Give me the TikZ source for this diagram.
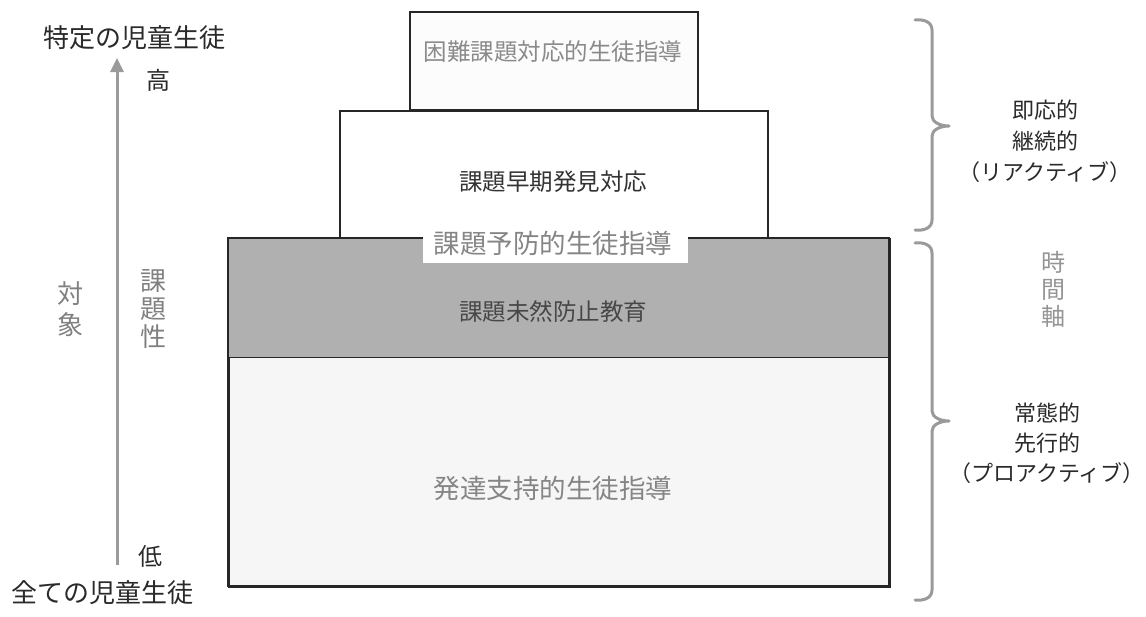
\documentclass[tikz,border=0pt]{standalone}
\usepackage{fontspec}
\setmainfont{Noto Sans CJK JP}
\usetikzlibrary{arrows.meta}
\definecolor{txtdark}{HTML}{2A2A2A}
\definecolor{txtgray}{HTML}{8A8A8A}
\definecolor{darkfill}{HTML}{B0B0B0}
\definecolor{lightfill}{HTML}{F6F6F6}
\definecolor{topfill}{HTML}{FCFCFC}
\definecolor{linegray}{HTML}{9A9A9A}
\tikzset{
  boxline/.style={draw=black!85, line width=1.5pt},
  fz/.style={font=\fontsize{#1}{#1}\selectfont},
  fzs/.style 2 args={font=\fontsize{#1}{#2}\selectfont},
  lbl/.style={inner sep=0pt, text=txtdark},
  glbl/.style={inner sep=0pt, text=txtgray},
  bracepath/.style={draw=linegray, line width=3pt, line cap=round, line join=round},
}
\begin{document}
\begin{tikzpicture}[x=1pt,y=-1pt]
\useasboundingbox (0,0) rectangle (1146,616);
% top box
\node[boxline, fill=topfill, minimum width=288pt, minimum height=98pt, anchor=north west, inner sep=0pt] (top) at (409,11) {};
\node[glbl, fz=23.5] (toptxt) at (553,52) {困難課題対応的生徒指導};
% second box
\node[boxline, fill=white, minimum width=428pt, minimum height=128pt, anchor=north west, inner sep=0pt] (mid) at (339,110) {};
\node[lbl, fz=23.5, text=black!80] (midtxt) at (553,182) {課題早期発見対応};
% big box
\node[boxline, fill=lightfill, minimum width=661pt, minimum height=348pt, anchor=north west, inner sep=0pt] (big) at (228,238) {};
\fill[darkfill] (229,239) rectangle (888,357);
\draw[boxline] (228,238) rectangle (889,586);
\draw[boxline] (228,357.5) -- (889,357.5);
\node[lbl, fz=23.5, text=black!72] (mizen) at (553,312) {課題未然防止教育};
\node[glbl, fz=26.5, text=black!48] (hattatsu) at (553,488) {発達支持的生徒指導};
% label with white background
\node[fill=white, minimum width=265pt, minimum height=37pt, inner sep=0pt] (yobobg) at (555.5,244.5) {};
\node[glbl, fz=26.5, text=black!48] (yobo) at (553,243) {課題予防的生徒指導};
% left axis
\coordinate (abot) at (117,565);
\coordinate (atop) at (117,58);
\draw[draw=linegray, line width=3pt, -{Triangle[width=13pt,length=14pt]}] (abot) -- (atop);
\node[lbl, fz=26] (tokutei) at (134,38) {特定の児童生徒};
\node[lbl, fz=24] (taka) at (158,80) {高};
\node[lbl, fz=24] (hiku) at (150,556) {低};
\node[lbl, fz=26] (subete) at (103,593) {全ての児童生徒};
\node[glbl, fzs={26}{31}, align=center, text=black!50] (taisho) at (70,309) {対\\象};
\node[glbl, fzs={26}{28}, align=center, text=black!50] (kadaisei) at (153,309) {課\\題\\性};
% right braces
\draw[bracepath] (915,20) .. controls (924,19) and (932,22) .. (932,30) -- (932,116)
  .. controls (932,122) and (940,126) .. (949,126)
  .. controls (940,126) and (932,130) .. (932,136) -- (932,220)
  .. controls (932,228) and (924,231) .. (915,230);
\draw[bracepath] (915,243) .. controls (924,242) and (932,245) .. (932,253) -- (932,411)
  .. controls (932,417) and (940,421) .. (949,421)
  .. controls (940,421) and (932,425) .. (932,431) -- (932,590)
  .. controls (932,598) and (924,601) .. (915,600);
\node[lbl, fzs={22}{31}, align=center] (reactive) at (1045,141) {即応的\\継続的\\（リアクティブ）};
\node[glbl, fzs={24}{27}, align=center, text=black!42] (jikan) at (1053,289) {時\\間\\軸};
\node[lbl, fzs={22}{30}, align=center] (proactive) at (1047,443) {常態的\\先行的\\（プロアクティブ）};
\end{tikzpicture}
\end{document}
